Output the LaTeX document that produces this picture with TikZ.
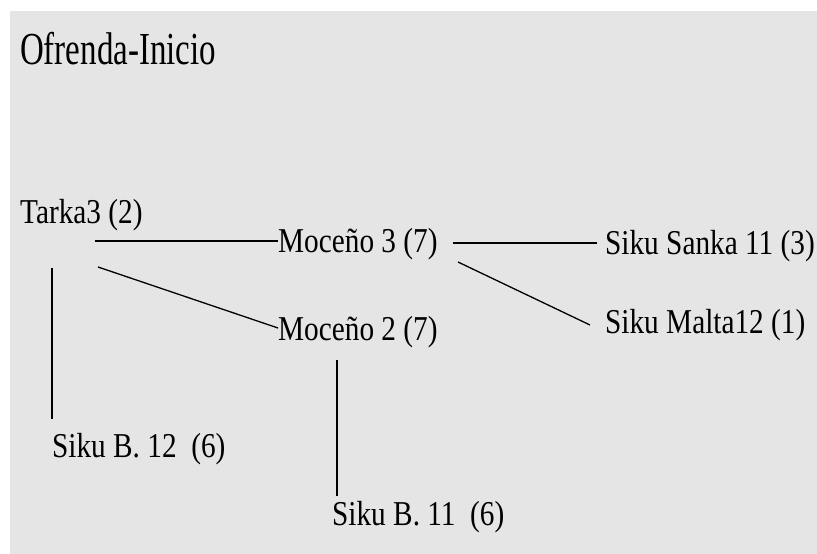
\documentclass[tikz,border=0pt]{standalone}
\usepackage{fontspec}
\setmainfont{Liberation Serif}
\usetikzlibrary{calc}
\definecolor{panel}{RGB}{229,229,229}
\tikzset{
  lbl/.style={anchor=base west, inner sep=0pt, xscale=0.84,
    font=\fontsize{35}{40}\selectfont},
  ttl/.style={anchor=base west, inner sep=0pt, xscale=0.72,
    font=\fontsize{46}{50}\selectfont},
  link/.style={line width=1.3bp, black}
}
\begin{document}
\frenchspacing
\begin{tikzpicture}[x=1bp, y=-1bp]
  % canvas and grey panel
  \useasboundingbox (0,0) rectangle (817,554);
  \fill[white] (0,0) rectangle (817,554);
  \fill[panel] (10,11) rectangle (817,554);

  % title
  \node[ttl] (title) at (20,65) {Ofrenda-Inicio};

  % instruments
  \node[lbl] (tarka) at (20,224) {Tarka3 (2)};
  \node[lbl] (moc3) at (278,253) {Moceño 3 (7)};
  \node[lbl] (moc2) at (278,340) {Moceño 2 (7)};
  \node[lbl] (sanka) at (605,255) {Siku Sanka 11 (3)};
  \node[lbl] (malta) at (605,333) {Siku Malta12 (1)};
  \node[lbl] (sikub12) at (52,457) {Siku B. 12~~(6)};
  \node[lbl] (sikub11) at (332,525) {Siku B. 11~~(6)};

  % connections
  \draw[link] ($(tarka.base west)+(75,17)$) -- ($(moc3.base west)+(0,-12)$);
  \draw[link] ($(tarka.base west)+(78,43)$) -- ($(moc2.base west)+(0,-12)$);
  \draw[link] ($(tarka.base west)+(32,44)$) -- ($(sikub12.base west)+(0,-38)$);
  \draw[link] ($(moc3.base west)+(175,-10)$) -- ($(sanka.base west)+(-8,-12)$);
  \draw[link] ($(moc3.base west)+(180,9)$) -- ($(malta.base west)+(-15,-8)$);
  \draw[link] ($(moc2.base west)+(59,20)$) -- ($(sikub11.base west)+(5,-29)$);
\end{tikzpicture}
\end{document}
